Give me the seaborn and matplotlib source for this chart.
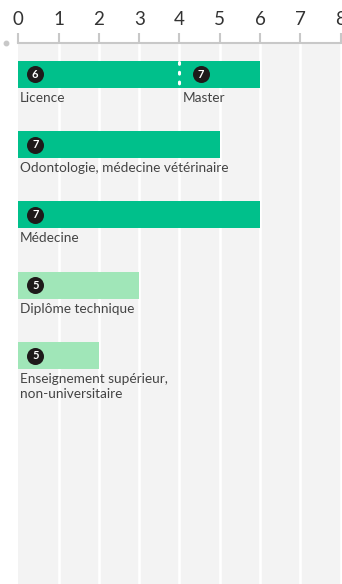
import matplotlib
matplotlib.use("Agg")
import matplotlib.pyplot as plt
import seaborn as sns
import pandas as pd

# Programme durations (years) and qualification levels
programmes = [
    "Licence",
    "Odontologie, médecine vétérinaire",
    "Médecine",
    "Diplôme technique",
    "Enseignement supérieur,\nnon-universitaire",
]
years = [4, 5, 6, 3, 2]
levels = [6, 7, 7, 5, 5]
groups = ["univ", "univ", "univ", "tech", "tech"]

# Master follows the Licence on the first row
master_label = "Master"
master_years = 2
master_level = 7

x_ticks = [0, 1, 2, 3, 4, 5, 6, 7, 8]

DARK = "#00C08B"
LIGHT = "#A0E6B8"
BG = "#F3F3F3"
AXIS = "#C8C8C8"
TEXT = "#444444"

sns.set_theme(style="white")
plt.rcParams["font.family"] = ["Lato", "DejaVu Sans"]

W, H = 342, 584
fig = plt.figure(figsize=(W / 100, H / 100), dpi=100)
x0_px, top_px = 18.3, 43
ax = fig.add_axes([x0_px / W, 0, 1 - x0_px / W, 1 - top_px / H])

totals = [years[0] + master_years] + years[1:]
df = pd.DataFrame({"row": list(range(len(programmes))), "years": totals, "group": groups})

sns.barplot(data=df, y="row", x="years", hue="group", orient="h",
            palette={"univ": DARK, "tech": LIGHT}, width=0.385,
            dodge=False, legend=False, ax=ax, saturation=1, linewidth=0)

ax.set_facecolor(BG)
unit_px = 40.3
ax.set_xlim(0, (W - x0_px) / unit_px)
ax.set_ylim(7.25, -0.445)

for xv in x_ticks[1:]:
    ax.axvline(xv, color="white", lw=1.9, zorder=0.5)

# axis on top
ax.xaxis.tick_top()
ax.set_xticks(x_ticks)
ax.set_xticklabels([str(v) for v in x_ticks], fontsize=13.5, color="#333333")
ax.tick_params(axis="x", direction="out", length=7, width=1.5, color=AXIS, pad=4, top=True, bottom=False)
ax.set_yticks([])
ax.set_xlabel("")
ax.set_ylabel("")
for s in ["left", "right", "bottom"]:
    ax.spines[s].set_visible(False)
ax.spines["top"].set_color(AXIS)
ax.spines["top"].set_linewidth(1.5)
ax.plot([-12 / (W - x0_px)], [1.0], "o", color=AXIS, ms=3.2, transform=ax.transAxes, clip_on=False)

half = 0.385 / 2
gap = 4 / 70.25

# divider between Licence and Master
ax.plot([years[0], years[0]], [0 - half + 0.02, 0 + half - 0.02], color="white",
        lw=2.2, ls=(0, (0.6, 2.6)), dash_capstyle="round", zorder=4)

def badge(x, y, n):
    ax.scatter([x], [y], s=150, color="#1E1A1A", zorder=5, linewidths=0)
    ax.text(x, y, str(n), color="white", fontsize=8, fontweight="bold",
            ha="center", va="center", zorder=6)

for i, (name, lv) in enumerate(zip(programmes, levels)):
    badge(0.42, i, lv)
    ax.text(0.03, i + half + gap, name, fontsize=9.8, color=TEXT, ha="left", va="top",
            linespacing=1.3)

badge(years[0] + 0.53, 0, master_level)
ax.text(years[0] + 0.07, 0 + half + gap, master_label, fontsize=9.8, color=TEXT,
        ha="left", va="top")

fig.savefig("out.png", dpi=100)
